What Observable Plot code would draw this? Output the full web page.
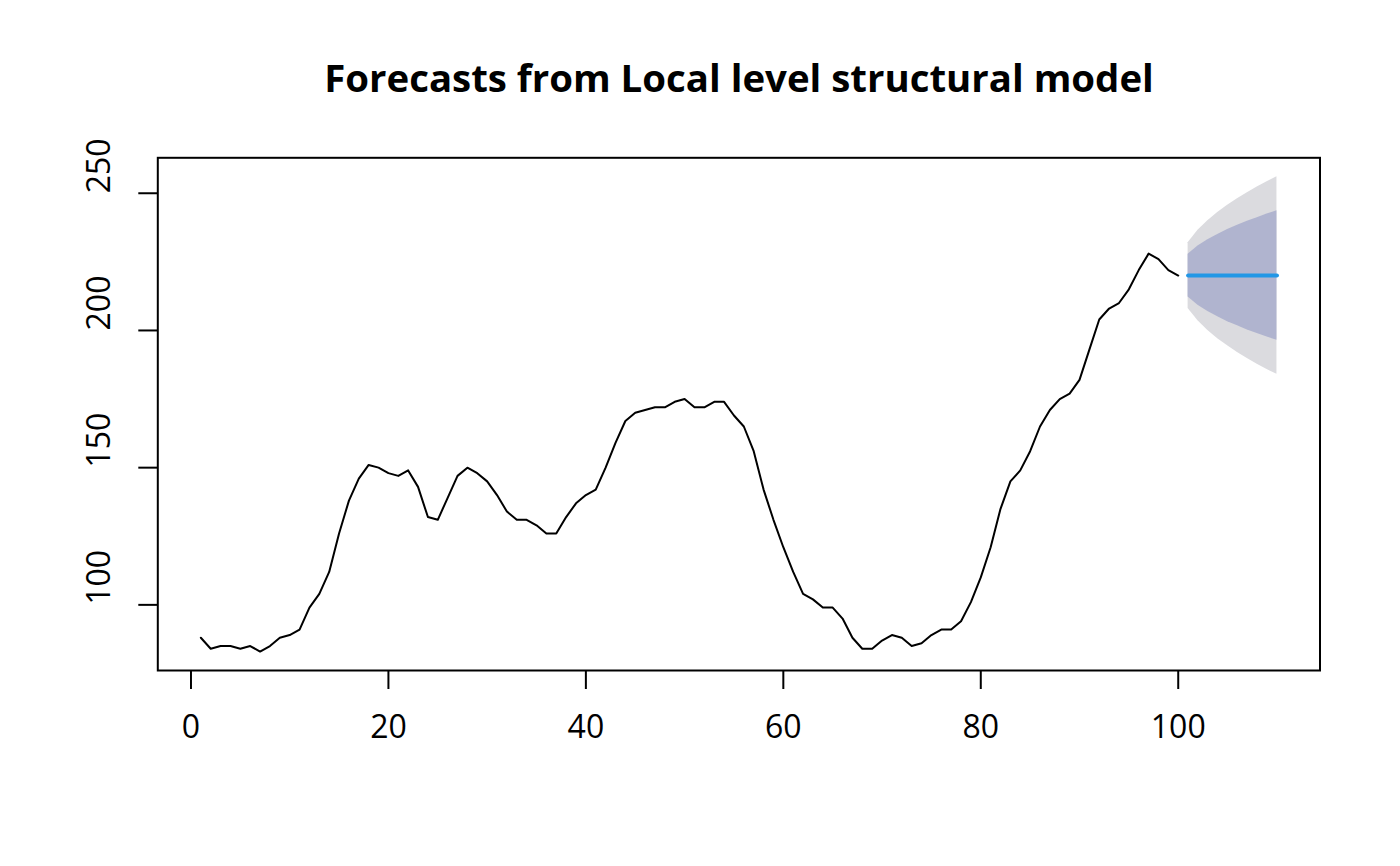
<!DOCTYPE html>
<html>
<head>
<meta charset="utf-8">
<script src="https://cdn.jsdelivr.net/npm/d3@7"></script>
<script src="https://cdn.jsdelivr.net/npm/@observablehq/plot@0.6"></script>
<style>
  html, body { margin: 0; padding: 0; background: #fff; }
  #wrap { width: 1400px; height: 866px; font-family: "Open Sans", sans-serif; }
  #title { width: 1400px; height: 110px; box-sizing: border-box; padding-top: 58px; padding-left: 78px;
           text-align: center; font-weight: bold; font-size: 38.4px; line-height: 38.4px; color: #000; }
</style>
</head>
<body>
<div id="wrap">
  <div id="title">Forecasts from Local level structural model</div>
  <div id="chart"></div>
</div>
<script>
// Observed series (WWWusage), time index 1..100
const usage = [88,84,85,85,84,85,83,85,88,89,91,99,104,112,126,138,146,151,150,148,
  147,149,143,132,131,139,147,150,148,145,140,134,131,131,129,126,126,132,137,140,
  142,150,159,167,170,171,172,172,174,175,172,172,174,174,169,165,156,142,131,121,
  112,104,102,99,99,95,88,84,84,87,89,88,85,86,89,91,91,94,101,110,
  121,135,145,149,156,165,171,175,177,182,193,204,208,210,215,222,228,226,222,220];

// Forecast horizon
const fcTime = [101,102,103,104,105,106,107,108,109,110];
const fcMean = [220,220,220,220,220,220,220,220,220,220];
const lo80 = [212.2,209.2,206.9,205.0,203.2,201.7,200.2,198.9,197.6,196.4];
const hi80 = [227.8,230.8,233.1,235.0,236.8,238.3,239.8,241.1,242.4,243.6];
const lo95 = [208.0,203.5,200.0,197.0,194.4,192.0,189.8,187.7,185.8,184.0];
const hi95 = [232.0,236.5,240.0,243.0,245.6,248.0,250.2,252.3,254.2,256.0];

// Axis ticks
const xTicks = [0,20,40,60,80,100];
const yTicks = [100,150,200,250];

const hist = usage.map((v, i) => ({t: i + 1, v}));
const fc = fcTime.map((t, i) => ({t, m: fcMean[i], lo80: lo80[i], hi80: hi80[i], lo95: lo95[i], hi95: hi95[i]}));

const chart = Plot.plot({
  width: 1400,
  height: 756,
  marginTop: 47.3,
  marginBottom: 196,
  marginLeft: 157.3,
  marginRight: 80.5,
  style: {fontFamily: "Open Sans", fontSize: "32px", color: "#000", background: "#fff"},
  x: {domain: [-3.36, 114.36]},
  y: {domain: [76.08, 262.92]},
  marks: [
    Plot.areaY(fc, {x: "t", y1: "lo95", y2: "hi95", fill: "#DBDBDF"}),
    Plot.areaY(fc, {x: "t", y1: "lo80", y2: "hi80", fill: "#B0B4CF"}),
    Plot.line(hist, {x: "t", y: "v", stroke: "#000", strokeWidth: 2}),
    Plot.line(fc, {x: "t", y: "m", stroke: "#2297E6", strokeWidth: 4}),
    Plot.frame({stroke: "#000", strokeWidth: 2}),
    Plot.axisX({ticks: xTicks, tickSize: 19, tickPadding: 26, strokeWidth: 2, fontSize: 32, label: null, tickFormat: d => String(d)}),
    Plot.axisY({ticks: yTicks, tickSize: 19, strokeWidth: 2, label: null, tickFormat: () => ""}),
    Plot.text(yTicks, {y: d => d, text: d => String(d), frameAnchor: "left", dx: -58, rotate: -90, fontSize: 32, fill: "#000"})
  ]
});
document.getElementById("chart").appendChild(chart);
</script>
</body>
</html>
